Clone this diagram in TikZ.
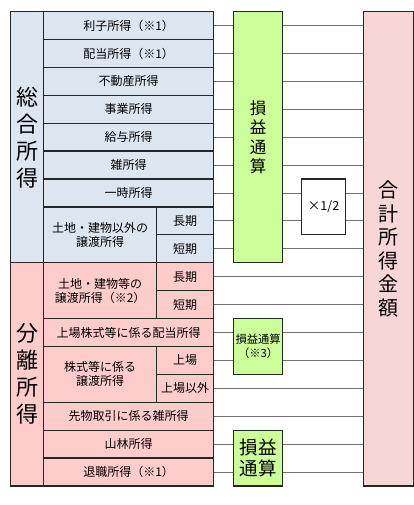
\documentclass[tikz,border=0pt]{standalone}
\usepackage{fontspec}
\newfontfamily\jp{Noto Sans CJK JP}
\definecolor{sogoblue}{RGB}{220,230,241}
\definecolor{bunripink}{RGB}{255,204,204}
\definecolor{tsusangreen}{RGB}{204,255,153}
\definecolor{totalpink}{RGB}{249,214,214}
\tikzset{
  cell/.style={draw=black!85, line width=1.2pt, inner sep=0pt, anchor=north west,
    align=center, font=\jp\fontsize{12}{14}\selectfont},
  sogo/.style={cell, fill=sogoblue},
  bunri/.style={cell, fill=bunripink},
  tsusan/.style={cell, fill=tsusangreen},
  wire/.style={draw=black!55, line width=0.8pt}
}
\begin{document}
\begin{tikzpicture}[x=1pt,y=-1pt]
\useasboundingbox (0,0) rectangle (414,505);
% 総合所得
\node[sogo, minimum width=33, minimum height=251.1, font=\jp\fontsize{22}{27}\selectfont] (sogo) at (10,11) {総\\合\\所\\得};
\node[sogo, minimum width=170, minimum height=27.9] (r1) at (43,11) {利子所得（※1）};
\node[sogo, minimum width=170, minimum height=27.9] (r2) at (43,38.9) {配当所得（※1）};
\node[sogo, minimum width=170, minimum height=27.9] (r3) at (43,66.8) {不動産所得};
\node[sogo, minimum width=170, minimum height=27.9] (r4) at (43,94.7) {事業所得};
\node[sogo, minimum width=170, minimum height=27.9] (r5) at (43,122.6) {給与所得};
\node[sogo, minimum width=170, minimum height=27.9] (r6) at (43,150.5) {雑所得};
\node[sogo, minimum width=170, minimum height=27.9] (r7) at (43,178.4) {一時所得};
\node[sogo, minimum width=113, minimum height=55.8] (r8) at (43,206.3) {土地・建物以外の\\譲渡所得};
\node[sogo, minimum width=57, minimum height=27.9] (r8a) at (156,206.3) {長期};
\node[sogo, minimum width=57, minimum height=27.9] (r8b) at (156,234.2) {短期};
% 分離所得
\node[bunri, minimum width=33, minimum height=223.2, font=\jp\fontsize{22}{27}\selectfont] (bunri) at (10,262.1) {分\\離\\所\\得};
\node[bunri, minimum width=113, minimum height=55.8] (b1) at (43,262.1) {土地・建物等の\\譲渡所得（※2）};
\node[bunri, minimum width=57, minimum height=27.9] (b1a) at (156,262.1) {長期};
\node[bunri, minimum width=57, minimum height=27.9] (b1b) at (156,290) {短期};
\node[bunri, minimum width=170, minimum height=27.9] (b2) at (43,317.9) {上場株式等に係る配当所得};
\node[bunri, minimum width=113, minimum height=55.8] (b3) at (43,345.8) {株式等に係る\\譲渡所得};
\node[bunri, minimum width=57, minimum height=27.9, font=\jp\fontsize{12}{14}\selectfont] (b3a) at (156,345.8) {上場};
\node[bunri, minimum width=57, minimum height=27.9, font=\jp\fontsize{12}{14}\selectfont] (b3b) at (156,373.7) {上場以外};
\node[bunri, minimum width=170, minimum height=27.9] (b4) at (43,401.6) {先物取引に係る雑所得};
\node[bunri, minimum width=170, minimum height=27.9] (b5) at (43,429.5) {山林所得};
\node[bunri, minimum width=170, minimum height=27.9] (b6) at (43,457.4) {退職所得（※1）};
% 損益通算
\node[tsusan, minimum width=49, minimum height=251.1, font=\jp\fontsize{16.5}{19.5}\selectfont] (ts1) at (233,11) {損\\益\\通\\算};
\node[tsusan, minimum width=49, minimum height=55.8, font=\jp\fontsize{11.3}{13.5}\selectfont] (ts2) at (233,317.9) {損益通算\\（※3）};
\node[tsusan, minimum width=49, minimum height=55.8, font=\jp\fontsize{18.5}{21}\selectfont] (ts3) at (233,429.5) {損益\\通算};
\node[cell, fill=white, minimum width=44, minimum height=55.8, font=\jp\fontsize{12.5}{14}\selectfont] (half) at (301,178.4) {×1/2};
\node[cell, fill=totalpink, minimum width=50, minimum height=474.3, font=\jp\fontsize{20}{23.5}\selectfont] (total) at (363,11) {合\\計\\所\\得\\金\\額};
% connectors
\draw[wire] (r1.east) -- (r1.east -| ts1.west) (r1.east -| ts1.east) -- (r1.east -| total.west);
\draw[wire] (r2.east) -- (r2.east -| ts1.west) (r2.east -| ts1.east) -- (r2.east -| total.west);
\draw[wire] (r3.east) -- (r3.east -| ts1.west) (r3.east -| ts1.east) -- (r3.east -| total.west);
\draw[wire] (r4.east) -- (r4.east -| ts1.west) (r4.east -| ts1.east) -- (r4.east -| total.west);
\draw[wire] (r5.east) -- (r5.east -| ts1.west) (r5.east -| ts1.east) -- (r5.east -| total.west);
\draw[wire] (r6.east) -- (r6.east -| ts1.west) (r6.east -| ts1.east) -- (r6.east -| total.west);
\draw[wire] (r7.east) -- (r7.east -| ts1.west) (r7.east -| ts1.east) -- (r7.east -| half.west)
  (r7.east -| half.east) -- (r7.east -| total.west);
\draw[wire] (r8a.east) -- (r8a.east -| ts1.west) (r8a.east -| ts1.east) -- (r8a.east -| half.west)
  (r8a.east -| half.east) -- (r8a.east -| total.west);
\draw[wire] (r8b.east) -- (r8b.east -| ts1.west) (r8b.east -| ts1.east) -- (r8b.east -| total.west);
\draw[wire] (b1a.east) -- (b1a.east -| total.west);
\draw[wire] (b1b.east) -- (b1b.east -| total.west);
\draw[wire] (b2.east) -- (b2.east -| ts2.west) (b2.east -| ts2.east) -- (b2.east -| total.west);
\draw[wire] (b3a.east) -- (b3a.east -| ts2.west) (b3a.east -| ts2.east) -- (b3a.east -| total.west);
\draw[wire] (b3b.east) -- (b3b.east -| total.west);
\draw[wire] (b4.east) -- (b4.east -| total.west);
\draw[wire] (b5.east) -- (b5.east -| ts3.west) (b5.east -| ts3.east) -- (b5.east -| total.west);
\draw[wire] (b6.east) -- (b6.east -| ts3.west) (b6.east -| ts3.east) -- (b6.east -| total.west);
\end{tikzpicture}
\end{document}
